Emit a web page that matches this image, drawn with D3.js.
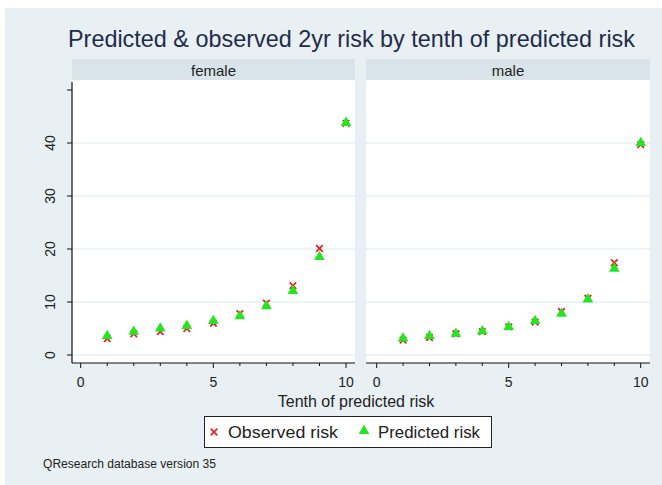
<!DOCTYPE html>
<html><head><meta charset="utf-8">
<script src="https://cdn.jsdelivr.net/npm/d3@7"></script>
<style>body{margin:0;background:#fff;}svg{display:block;font-family:"Liberation Sans",Arial,sans-serif;}</style>
</head><body>
<svg id="c" width="662" height="485"></svg>
<script>
const tenths = [1,2,3,4,5,6,7,8,9,10];
const panels = ["female","male"];
const femaleObserved = [3.1,4.0,4.4,5.0,6.0,7.8,9.8,13.1,20.1,43.7];
const femalePredicted = [3.8,4.6,5.2,5.7,6.6,7.5,9.4,12.3,18.7,44.0];
const maleObserved = [2.8,3.3,4.0,4.4,5.3,6.2,8.2,10.7,17.4,39.7];
const malePredicted = [3.3,3.8,4.2,4.7,5.5,6.6,8.0,10.7,16.5,40.2];
const yTicks = [0,10,20,30,40];
const xMajor = [0,5,10];
const xMinor = [1,2,3,4,6,7,8,9];
const title = "Predicted & observed 2yr risk by tenth of predicted risk";
const xTitle = "Tenth of predicted risk";
const legendLabels = ["Observed risk","Predicted risk"];
const note = "QResearch database version 35";

const series = {female:[femaleObserved,femalePredicted], male:[maleObserved,malePredicted]};
const svg = d3.select("#c");
const bg = "#e8f0f3", strip = "#d8e4ea", grid = "#e9eff2";
const red = "#e3262b", green = "#22e622";

svg.append("rect").attr("x",5).attr("y",8).attr("width",657).attr("height",477).attr("fill",bg);

svg.append("text").attr("x",351.5).attr("y",47).attr("text-anchor","middle")
  .attr("font-size",24).attr("fill","#1f2c4c").attr("textLength",567).attr("lengthAdjust","spacingAndGlyphs").text(title);

const y = d3.scaleLinear().domain([0,50]).range([355,90]);
const geo = {female:{x0:72,x1:355,r:[80.7,346]}, male:{x0:366,x1:650,r:[376.7,640.7]}};
const plotTop = 80, plotBot = 363;

const tri = d3.symbol().type(d3.symbolTriangle).size(50);
const cross = d3.symbol().type(d3.symbolTimes).size(30);

function drawCross(sel){ return sel.attr("d",cross).attr("fill","none").attr("stroke",red).attr("stroke-width",1.8); }

panels.forEach((p,pi)=>{
  const g = geo[p];
  const x = d3.scaleLinear().domain([0,10]).range(g.r);
  const G = svg.append("g");
  G.append("rect").attr("x",g.x0).attr("y",59).attr("width",g.x1-g.x0).attr("height",21).attr("fill",strip);
  G.append("text").attr("x",(g.x0+g.x1)/2).attr("y",75.5).attr("text-anchor","middle").attr("font-size",15).attr("fill","#222").text(p);
  G.append("rect").attr("x",g.x0).attr("y",plotTop).attr("width",g.x1-g.x0).attr("height",plotBot-plotTop).attr("fill","#fff");
  G.selectAll("line.grid").data(yTicks).join("line").attr("class","grid")
    .attr("x1",g.x0).attr("x2",g.x1).attr("y1",d=>y(d)).attr("y2",d=>y(d)).attr("stroke",grid).attr("stroke-width",1.5);
  const xa = G.append("g").attr("transform",`translate(0,${plotBot})`);
  xa.append("line").attr("x1",g.x0).attr("x2",g.x1).attr("stroke","#111").attr("stroke-width",1.2);
  xa.selectAll("line.maj").data(xMajor).join("line").attr("class","maj").attr("x1",d=>x(d)).attr("x2",d=>x(d)).attr("y2",5).attr("stroke","#111");
  xa.selectAll("line.min").data(xMinor).join("line").attr("class","min").attr("x1",d=>x(d)).attr("x2",d=>x(d)).attr("y2",3).attr("stroke","#111");
  xa.selectAll("text").data(xMajor).join("text").attr("x",d=>x(d)).attr("y",24).attr("text-anchor","middle").attr("font-size",14).attr("fill","#222").text(d=>d);
  if(pi===0){
    const ya = G.append("g").attr("transform",`translate(${g.x0},0)`);
    ya.append("line").attr("y1",82).attr("y2",plotBot).attr("stroke","#111").attr("stroke-width",1.2);
    ya.selectAll("line.t").data(yTicks.concat([50])).join("line").attr("class","t").attr("y1",d=>y(d)).attr("y2",d=>y(d)).attr("x2",-5).attr("stroke","#111");
    ya.selectAll("text").data(yTicks).join("text").attr("transform",d=>`translate(-17,${y(d)}) rotate(-90)`)
      .attr("text-anchor","middle").attr("font-size",14).attr("fill","#222").text(d=>d);
  }
  const [obs,pred] = series[p];
  G.selectAll("path.obs").data(tenths).join("path").attr("class","obs")
    .attr("transform",(d,i)=>`translate(${x(d)},${y(obs[i])})`).call(drawCross);
  G.selectAll("path.pred").data(tenths).join("path").attr("class","pred")
    .attr("transform",(d,i)=>`translate(${x(d)},${y(pred[i])+1})`).attr("d",tri).attr("fill",green);
});

svg.append("text").attr("x",356).attr("y",407).attr("text-anchor","middle").attr("font-size",16).attr("fill","#222").text(xTitle);

const L = svg.append("g");
L.append("rect").attr("x",204.5).attr("y",416.5).attr("width",287).attr("height",31).attr("fill","#fff").attr("stroke","#222").attr("stroke-width",1);
L.append("path").attr("transform","translate(214,432)").call(drawCross);
L.append("text").attr("x",228).attr("y",438).attr("font-size",17).attr("fill","#222").attr("textLength",110).attr("lengthAdjust","spacingAndGlyphs").text(legendLabels[0]);
L.append("path").attr("transform","translate(364,431)").attr("d",tri).attr("fill",green);
L.append("text").attr("x",378).attr("y",438).attr("font-size",17).attr("fill","#222").attr("textLength",102).attr("lengthAdjust","spacingAndGlyphs").text(legendLabels[1]);

svg.append("text").attr("x",43).attr("y",468).attr("font-size",12).attr("fill","#222").attr("textLength",173).attr("lengthAdjust","spacingAndGlyphs").text(note);
</script>
</body></html>
